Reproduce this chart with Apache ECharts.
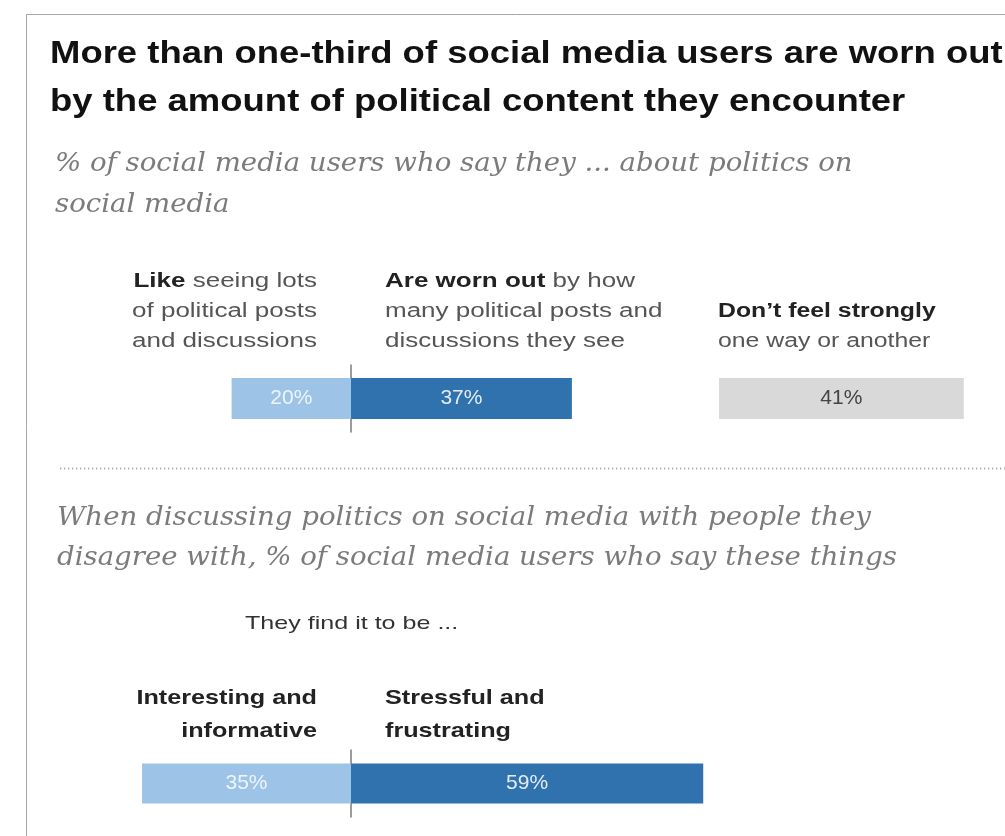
<!DOCTYPE html>
<html>
<head>
<meta charset="utf-8">
<script src="https://cdn.jsdelivr.net/npm/echarts@6/dist/echarts.min.js"></script>
<style>
  html, body { margin: 0; padding: 0; background: #fff; }
  #chart { width: 1005px; height: 836px; }
</style>
</head>
<body>
<div id="chart"></div>
<script>
// ---- Data ----
const titleLines = [
  'More than one-third of social media users are worn out',
  'by the amount of political content they encounter'
];
const subtitleTop = ['% of social media users who say they ... about politics on', 'social media'];
const subtitleBottom = [
  'When discussing politics on social media with people they',
  'disagree with, % of social media users who say these things'
];
const bottomLead = 'They find it to be ...';

// Top panel: feelings about political content
const likeLabel = ['{b|Like} seeing lots', 'of political posts', 'and discussions'];
const wornLabel = ['{b|Are worn out} by how', 'many political posts and', 'discussions they see'];
const neutralLabel = ['{b|Don\u2019t feel strongly}', 'one way or another'];
const likeValues = [20];
const wornValues = [37];
const neutralValues = [41];

// Bottom panel: discussing politics with people they disagree with
const interestingLabel = ['Interesting and', 'informative'];
const stressfulLabel = ['Stressful and', 'frustrating'];
const interestingValues = [35];
const stressfulValues = [59];

// ---- Styling ----
const LIGHT = '#9dc3e6';
const DARK = '#2f72ad';
const GREY = '#d9d9d9';
const SANS = '"Liberation Sans", Arial, sans-serif';
const SERIF = '"DejaVu Serif Condensed", "DejaVu Serif", Georgia, serif';
const PX = 5.97;            // pixels per percentage point
const ZERO_X = 351;         // position of the 0 line
const NEG = 50, POS = 100;
const NEUTRAL_MAX = 45;

const chart = echarts.init(document.getElementById('chart'), null, { renderer: 'canvas' });

function divergingGrid(top) {
  return { left: ZERO_X - NEG * PX, top: top, width: (NEG + POS) * PX, height: 67 };
}
function hiddenValueAxis(gridIndex, min, max) {
  return {
    type: 'value', gridIndex, min, max,
    axisLine: { show: false }, axisTick: { show: false },
    axisLabel: { show: false }, splitLine: { show: false }
  };
}
function categoryAxis(gridIndex, showLine) {
  return {
    type: 'category', gridIndex, data: [''],
    axisLine: { show: showLine, onZero: true, lineStyle: { color: '#7a7a7a', width: 1.5 } },
    axisTick: { show: false }, axisLabel: { show: false }
  };
}
function barSeries(name, values, color, axisIndex, width, labelColor, negative) {
  return {
    name, type: 'bar', xAxisIndex: axisIndex, yAxisIndex: axisIndex,
    stack: 'row' + axisIndex, barWidth: width,
    data: values.map(v => negative ? -v : v),
    itemStyle: { color },
    label: {
      show: true, position: 'inside', color: labelColor,
      fontFamily: SANS, fontSize: 21,
      formatter: p => Math.abs(p.value) + '%'
    },
    silent: true
  };
}

// Text block; sx widens the glyphs horizontally around the anchor point
function textEl(lines, x, y, sx, opts) {
  return {
    type: 'text', x, y, scaleX: sx, silent: true,
    style: Object.assign({
      text: lines.join('\n'),
      align: 'left', verticalAlign: 'middle',
      fontFamily: SANS, fill: '#333'
    }, opts)
  };
}
const boldRich = size => ({ b: { fontWeight: 'bold', fill: '#222', fontSize: size, fontFamily: SANS } });

const option = {
  animation: false,
  backgroundColor: '#fff',
  grid: [
    divergingGrid(365),
    { left: 719, top: 365, width: NEUTRAL_MAX * PX, height: 67 },
    divergingGrid(750)
  ],
  xAxis: [
    hiddenValueAxis(0, -NEG, POS),
    hiddenValueAxis(1, 0, NEUTRAL_MAX),
    hiddenValueAxis(2, -NEG, POS)
  ],
  yAxis: [
    categoryAxis(0, true),
    categoryAxis(1, false),
    categoryAxis(2, true)
  ],
  series: [
    barSeries('Like seeing lots of political posts', likeValues, LIGHT, 0, 41, '#eef4fb', true),
    barSeries('Are worn out', wornValues, DARK, 0, 41, '#e3ecf6', false),
    barSeries('Don\u2019t feel strongly', neutralValues, GREY, 1, 41, '#444', false),
    barSeries('Interesting and informative', interestingValues, LIGHT, 2, 40, '#eef4fb', true),
    barSeries('Stressful and frustrating', stressfulValues, DARK, 2, 40, '#e3ecf6', false)
  ],
  graphic: [
    // frame
    { type: 'rect', silent: true, shape: { x: 26.5, y: 14.5, width: 1100, height: 1000 },
      style: { fill: 'none', stroke: '#a8a8a8', lineWidth: 1 } },
    // headline
    textEl(titleLines, 50, 78, 1.14, { fontSize: 32, fontWeight: 'bold', fill: '#111', lineHeight: 48 }),
    // first subtitle
    textEl(subtitleTop, 55, 185, 1.18, { fontFamily: SERIF, fontStyle: 'italic', fontSize: 26, fill: '#7b7b7b', lineHeight: 41 }),
    // top panel column headers
    textEl(likeLabel, 317, 311, 1.3, { align: 'right', fontSize: 20, fill: '#555', lineHeight: 30, rich: boldRich(20) }),
    textEl(wornLabel, 385, 311, 1.3, { fontSize: 20, fill: '#555', lineHeight: 30, rich: boldRich(20) }),
    textEl(neutralLabel, 718, 326, 1.24, { fontSize: 20, fill: '#555', lineHeight: 30, rich: boldRich(20) }),
    // separator
    { type: 'line', silent: true, shape: { x1: 60, y1: 468.5, x2: 1005, y2: 468.5 },
      style: { stroke: '#a9a9a9', lineWidth: 2, lineDash: [1.2, 2.8] } },
    // second subtitle
    textEl(subtitleBottom, 57, 538, 1.18, { fontFamily: SERIF, fontStyle: 'italic', fontSize: 26, fill: '#7b7b7b', lineHeight: 40 }),
    textEl([bottomLead], 245, 624, 1.32, { fontSize: 19, fill: '#333' }),
    // bottom panel column headers
    textEl(interestingLabel, 317, 715, 1.2, { align: 'right', fontSize: 21, fontWeight: 'bold', fill: '#222', lineHeight: 33 }),
    textEl(stressfulLabel, 385, 715, 1.2, { fontSize: 21, fontWeight: 'bold', fill: '#222', lineHeight: 33 })
  ]
};

chart.setOption(option);
</script>
</body>
</html>
